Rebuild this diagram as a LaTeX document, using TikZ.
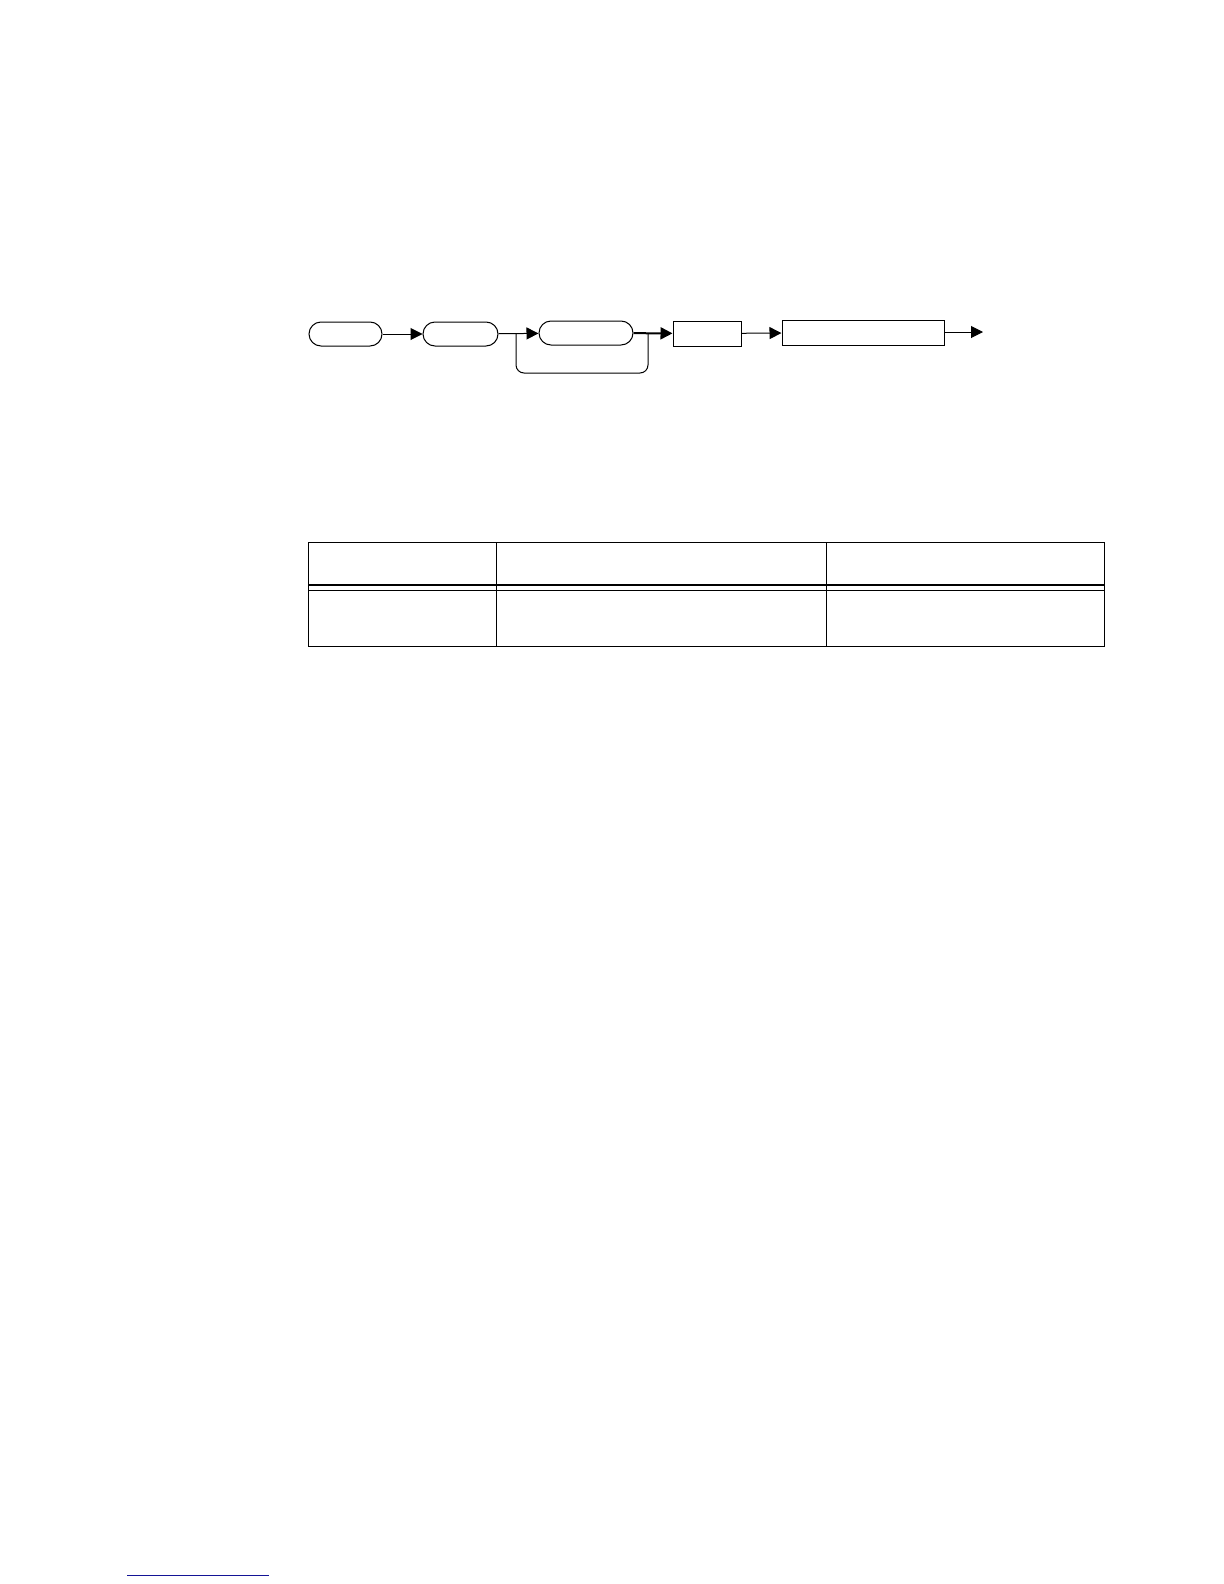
\documentclass[tikz,border=0pt]{standalone}
\usepackage{tikz}
\usetikzlibrary {arrows.meta}

\definecolor{linkblue}{RGB}{20,20,150}

\begin{document}
\begin{tikzpicture}
	[x=0.5pt,y=-0.5pt,
	>={Triangle[length=6pt,width=6pt]},
	line width=0.5pt,
	pill/.style={draw,rounded corners=6pt,minimum height=12pt,inner sep=0pt},
	block/.style={draw,rectangle,minimum height=12.5pt,inner sep=0pt}]
		\useasboundingbox (0,0) rectangle (1224,1584);
		% flow
		\node[pill,minimum width=36.5pt](start) at (345.5,334){};
		\node[pill,minimum width=37.5pt](read) at (460.5,334){};
		\node[pill,minimum width=47pt](loop) at (586,333){};
		\node[block,minimum width=34pt](calc) at (707,333.5){};
		\node[block,minimum width=81pt](out) at (863,332.5){};
		\coordinate(split) at (516,333.5);
		\coordinate(join) at (648,333);
		\coordinate(end) at (983,332);
			\draw[->](start) to (read);
			\draw[->](read) to (loop);
			\draw[->,line width=1pt](loop) to (calc);
			\draw[rounded corners=4pt](split) -- (516,373) -- (648,373) -- (join);
			\draw[->](calc) to (out);
			\draw[->](out.east |- end) to (end);
		% table
		\draw(308,542.5) rectangle (1104,646);
		\draw(496,542.5) -- (496,646);
		\draw(826,542.5) -- (826,646);
		\draw[line width=1.1pt](308,584.7) -- (1104,584.7);
		\draw(308,590.3) -- (1104,590.3);
		% footnote rule
		\draw[linkblue](127,1575) -- (269,1575);
	\end{tikzpicture}
\end{document}
